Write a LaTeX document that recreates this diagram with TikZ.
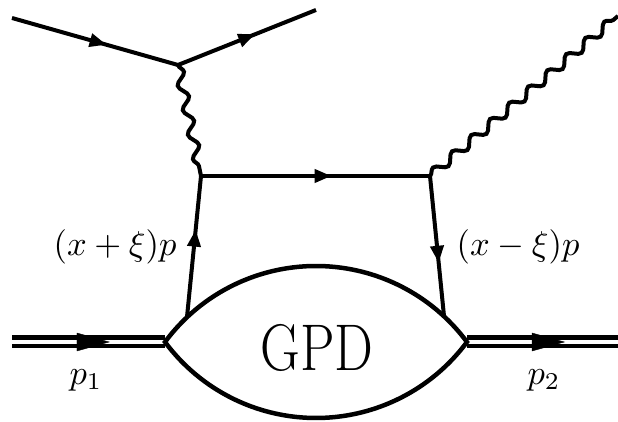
\documentclass[tikz,border=0pt]{standalone}
\usetikzlibrary{decorations.pathmorphing,decorations.markings,arrows.meta}
\tikzset{
  fline/.style={line width=4pt},
  photon/.style={line width=4pt,decorate,decoration={snake,segment length=25pt,amplitude=4.5pt}},
  midarrow/.style={postaction={decorate,decoration={markings,mark=at position #1 with {\arrow{Triangle[length=17pt,width=13pt]}}}}},
  bigarrow/.style={decoration={markings,mark=at position #1 with {\arrow{Triangle[length=37pt,width=20pt]}}},decorate},
  dline/.style={line width=4.5pt,double,double distance=4pt},
  lens/.style={line width=4.5pt},
  lab/.style={inner sep=0pt,scale=3.45}
}
\begin{document}
\begin{tikzpicture}[x=1pt,y=1pt]
\useasboundingbox (0,0) rectangle (618,422);
\coordinate (ein) at (12,404);
\coordinate (ev) at (178,357);
\coordinate (eout) at (316,412);
\coordinate (qa) at (201,246);
\coordinate (qb) at (430,246);
\coordinate (gout) at (618,406);
\coordinate (ql) at (187,105);
\coordinate (qr) at (444,106);
\coordinate (tl) at (165,80);
\coordinate (tr) at (467,80);
\coordinate (pin) at (12,80);
\coordinate (pout) at (618,80);
% electron
\draw[fline,midarrow=0.57] (ein) -- (ev);
\draw[fline,midarrow=0.56] (ev) -- (eout);
% photons
\draw[photon] (ev) -- (qa);
\draw[photon] (qb) -- (gout);
% quarks
\draw[fline,midarrow=0.57] (qa) -- (qb);
\draw[fline,midarrow=0.62] (ql) -- (qa);
\draw[fline,midarrow=0.62] (qb) -- (qr);
% hadrons
\draw[dline] (pin) -- (tl);
\draw[dline] (tr) -- (pout);
\path[line width=2pt,bigarrow=0.66] (pin) -- (tl);
\path[line width=2pt,bigarrow=0.67] (tr) -- (pout);
% blob
\draw[lens,fill=white] (tl) arc[start angle=143.43,end angle=36.57,radius=188]
  arc[start angle=-36.57,end angle=-143.43,radius=188] -- cycle;
\node[inner sep=0pt,xscale=0.83] (gpd) at (317,74.5) {\fontsize{66}{66}\selectfont GPD};
% labels
\node[lab] (lp) at (115,175) {$(x+\xi)p$};
\node[lab] (lm) at (518,175) {$(x-\xi)p$};
\node[lab] (p1) at (86,42) {$p_1$};
\node[lab] (p2) at (544,42) {$p_2$};
\end{tikzpicture}
\end{document}
